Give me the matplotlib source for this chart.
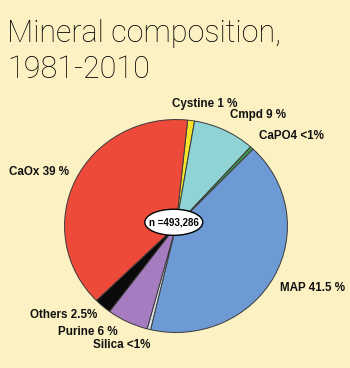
import matplotlib
matplotlib.use("Agg")
import matplotlib.pyplot as plt
from matplotlib.patches import Ellipse

# stone composition shares (%), clockwise from the top
minerals = ["Cystine", "Cmpd", "CaPO4", "MAP", "Silica", "Purine", "Others", "CaOx"]
shares = [1, 9, 0.5, 41.5, 0.5, 6, 2.5, 39]
labels = ["Cystine 1 %", "Cmpd 9 %", "CaPO4 <1%", "MAP 41.5 %",
          "Silica <1%", "Purine 6 %", "Others 2.5%", "CaOx 39 %"]
total_n = "n =493,286"

colors = ["#F5E22A", "#8FD3D5", "#3F9A4C", "#6D99D5",
          "#DDE3EA", "#A47CBF", "#0A0A0A", "#EE4A3A"]
# label anchors in pixels (left x, centre y from top)
label_px = [(172, 104), (230, 115), (259, 136), (280, 288),
            (93, 345), (58, 332), (30, 315), (9, 172)]

W, H = 350, 368
bg = "#FBF1C3"
fig = plt.figure(figsize=(W / 100, H / 100), dpi=100, facecolor=bg)

# pie box in pixels: left, top, right, bottom
pl, pt, pr, pb = 64, 119, 288, 333
ax = fig.add_axes([pl / W, 1 - pb / H, (pr - pl) / W, (pb - pt) / H])
ax.pie(shares, colors=colors, startangle=84, counterclock=False,
       wedgeprops=dict(edgecolor="#3a3a3a", linewidth=0.7))
ax.set_aspect("auto")
ax.set_xlim(-1.005, 1.005)
ax.set_ylim(-1.005, 1.005)
ax.set_facecolor(bg)

ax.add_patch(Ellipse((-0.02, 0.035), 0.52, 0.245, fc="white", ec="black",
                     lw=1.0, zorder=5))
ax.text(-0.02, 0.03, total_n, ha="center", va="center", fontsize=7,
        fontweight="bold", family="Liberation Sans", zorder=6)

for text, (x, y) in zip(labels, label_px):
    fig.text(x / W, 1 - y / H, text, ha="left", va="center", fontsize=8.4,
             fontweight="bold", family="Liberation Sans", color="#111111")

title_style = dict(fontsize=22, family="Roboto", fontweight="light",
                   color="#000000", ha="left", va="baseline")
fig.text(7 / W, 1 - 42 / H, "Mineral composition,", **title_style)
fig.text(7 / W, 1 - 78 / H, "1981-2010", **title_style)

fig.savefig("out.png", dpi=100, facecolor=bg)
